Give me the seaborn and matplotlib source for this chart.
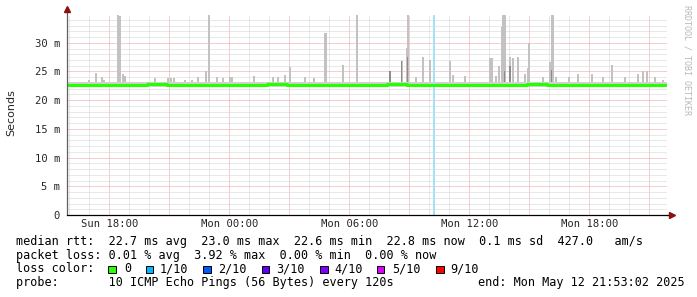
import numpy as np
import pandas as pd
import matplotlib
matplotlib.use("Agg")
import matplotlib.pyplot as plt
import matplotlib.dates as mdates
from matplotlib.ticker import MultipleLocator, FuncFormatter
from matplotlib.patches import Rectangle
import seaborn as sns

sns.set_style("white")
plt.rcParams["font.family"] = ["DejaVu Sans Mono", "DejaVu Sans"]

# ---------------- data ----------------
start = pd.Timestamp("2025-05-11 15:53:02")
end = pd.Timestamp("2025-05-12 21:53:02")

median_times = pd.date_range(start, end, freq="1h")
median_values = [22.7, 22.7, 22.7, 22.7, 22.8, 22.7, 22.7, 22.7, 22.7, 22.7,
                 22.8, 22.7, 22.7, 22.7, 22.7, 22.7, 22.8, 22.7, 22.7, 22.7,
                 22.7, 22.7, 22.7, 22.8, 22.7, 22.7, 22.7, 22.7, 22.7, 22.7, 22.7]

spike_times = [
    "2025-05-11 16:59", "2025-05-11 17:19", "2025-05-11 17:37", "2025-05-11 17:45",
    "2025-05-11 18:27", "2025-05-11 18:30", "2025-05-11 18:33", "2025-05-11 18:42",
    "2025-05-11 18:48", "2025-05-11 20:17", "2025-05-11 20:56", "2025-05-11 21:05",
    "2025-05-11 21:14", "2025-05-11 21:47", "2025-05-11 22:07", "2025-05-11 22:25",
    "2025-05-11 22:51", "2025-05-11 22:59", "2025-05-11 23:22", "2025-05-11 23:41",
    "2025-05-12 00:02", "2025-05-12 00:08", "2025-05-12 01:15", "2025-05-12 02:12",
    "2025-05-12 02:25", "2025-05-12 02:47", "2025-05-12 03:02", "2025-05-12 03:47",
    "2025-05-12 04:15", "2025-05-12 04:47", "2025-05-12 04:51", "2025-05-12 05:42",
    "2025-05-12 06:22", "2025-05-12 08:02", "2025-05-12 08:37", "2025-05-12 08:52",
    "2025-05-12 08:55", "2025-05-12 09:19", "2025-05-12 09:42", "2025-05-12 10:01",
    "2025-05-12 11:02", "2025-05-12 11:12", "2025-05-12 11:47", "2025-05-12 13:02",
    "2025-05-12 13:07", "2025-05-12 13:19", "2025-05-12 13:29", "2025-05-12 13:37",
    "2025-05-12 13:41", "2025-05-12 13:46", "2025-05-12 14:02", "2025-05-12 14:12",
    "2025-05-12 14:27", "2025-05-12 14:47", "2025-05-12 14:55", "2025-05-12 14:59",
    "2025-05-12 15:41", "2025-05-12 16:02", "2025-05-12 16:07", "2025-05-12 16:10",
    "2025-05-12 16:19", "2025-05-12 16:59", "2025-05-12 17:27", "2025-05-12 18:07",
    "2025-05-12 18:41", "2025-05-12 19:07", "2025-05-12 19:47", "2025-05-12 20:27",
    "2025-05-12 20:42", "2025-05-12 20:52", "2025-05-12 21:17", "2025-05-12 21:42",
]
spike_values = [
    23.5, 24.7, 24.0, 23.5,
    34.9, 34.6, 34.6, 24.5,
    24.2, 23.8, 23.8, 23.8,
    23.8, 23.5, 23.5, 24.0,
    25.0, 34.9, 24.0, 23.8,
    24.0, 24.0, 24.2, 24.0,
    24.0, 24.4, 25.7, 24.0,
    23.8, 31.7, 31.7, 26.2,
    34.9, 25.0, 26.9, 29.1,
    34.9, 24.0, 27.5, 27.0,
    26.9, 24.4, 24.3, 27.3,
    27.3, 24.2, 25.9, 32.7,
    34.9, 34.9, 27.5, 27.3,
    27.5, 24.5, 25.6, 29.9,
    24.0, 26.6, 34.9, 34.9,
    24.0, 24.0, 24.5, 24.6,
    24.0, 26.2, 24.0, 24.5,
    25.1, 25.1, 24.0, 23.5,
]
dark_times = ["2025-05-12 08:02", "2025-05-12 08:37", "2025-05-12 08:55",
              "2025-05-12 13:46", "2025-05-12 14:02", "2025-05-12 16:07"]
dark_values = [25.0, 26.9, 27.5, 25.0, 26.0, 25.2]

smoke_low, smoke_high = 22.3, 23.2
gap_start, gap_end = "2025-05-12 10:12", "2025-05-12 10:18"

loss_labels = ["0", "1/10", "2/10", "3/10", "4/10", "5/10", "9/10"]
loss_colors = ["#26ff00", "#00b8ff", "#0059ff", "#5e00ff", "#7e00ff", "#dd00ff", "#ff0000"]

line1 = "median rtt:  22.7 ms avg  23.0 ms max  22.6 ms min  22.8 ms now  0.1 ms sd  427.0   am/s"
line2 = "packet loss: 0.01 % avg  3.92 % max  0.00 % min  0.00 % now"
line4 = "probe:       10 ICMP Echo Pings (56 Bytes) every 120s"
end_text = "end: Mon May 12 21:53:02 2025"

# ---------------- figure ----------------
W, H = 697, 297
fig = plt.figure(figsize=(W / 100, H / 100), dpi=100)
fig.patch.set_facecolor("white")
ax = fig.add_axes([67 / W, (H - 215) / H, 600 / W, 200 / H])
ax.set_facecolor("white")

st = pd.to_datetime(spike_times)
dt = pd.to_datetime(dark_times)
bw = 6 / 1440.0

ax.fill_between([start, end], smoke_low, smoke_high, color="#d0d0d0", lw=0, zorder=2)
ax.bar(st, np.array(spike_values) - smoke_high, bottom=smoke_high, width=bw,
       color="#c2c2c2", linewidth=0, zorder=2)
ax.bar(dt, np.array(dark_values) - smoke_high, bottom=smoke_high, width=bw * 0.7,
       color="#8c8c8c", linewidth=0, zorder=2.1)
ax.axvspan(pd.Timestamp(gap_start), pd.Timestamp(gap_end), color="#a3e2f7", lw=0, zorder=2.2)

mt = list(median_times) + [end]
mv = list(median_values) + [median_values[-1]]
sns.lineplot(x=mt, y=mv, ax=ax, drawstyle="steps-post", color=loss_colors[0],
             linewidth=2.2, zorder=3)

ax.set_xlim(start, end)
ax.set_ylim(0, 200 / 5.74)

ax.xaxis.set_major_locator(mdates.HourLocator(byhour=range(0, 24, 3)))
ax.xaxis.set_minor_locator(mdates.HourLocator())
ax.xaxis.set_major_formatter(FuncFormatter(
    lambda v, p: mdates.num2date(v).strftime("%a %H:%M") if mdates.num2date(v).hour % 6 == 0 else ""))
ax.yaxis.set_major_locator(MultipleLocator(5))
ax.yaxis.set_minor_locator(MultipleLocator(1))
ax.yaxis.set_major_formatter(FuncFormatter(lambda v, p: "0" if v == 0 else f"{v:g} m"))

ax.set_axisbelow(True)
ax.grid(which="major", color="#eaa0a0", linestyle=(0, (1, 1)), linewidth=0.72)
ax.grid(which="minor", color="#d2d2d2", linestyle=(0, (1, 1)), linewidth=0.72)

for s in ["top", "right", "left"]:
    ax.spines[s].set_visible(False)
ax.spines["bottom"].set_color("black")
ax.spines["bottom"].set_linewidth(0.9)
ax.spines["bottom"].set_zorder(5)
ax.plot([0, 0], [0, 1.03], transform=ax.transAxes, color="#606060", lw=0.9,
        clip_on=False, zorder=5)
ax.plot([1.0, 1.005], [0, 0], transform=ax.transAxes, color="black", lw=0.9,
        clip_on=False, zorder=5)
ax.plot([0], [1.03], marker="^", color="#8b1010", markersize=4, transform=ax.transAxes,
        clip_on=False, zorder=6)
ax.plot([1.008], [0], marker=">", color="#8b1010", markersize=4, transform=ax.transAxes,
        clip_on=False, zorder=6)

ax.tick_params(axis="y", which="major", length=2, width=0.7, color="#606060",
               pad=3, labelsize=7.6, direction="out")
ax.tick_params(axis="y", which="minor", length=1.5, width=0.6, color="#909090", direction="out")
ax.tick_params(axis="x", which="major", length=2, width=0.7, color="black",
               pad=1, labelsize=7.6, direction="out")
ax.tick_params(axis="x", which="minor", length=1.2, width=0.6, color="#909090", direction="out")
ax.set_xlabel("")
ax.set_ylabel("")

# ---------------- texts ----------------
def fx(x):
    return x / W

def fy(y):
    return 1 - y / H

mono = dict(fontsize=8.5, family="DejaVu Sans Mono", va="center", ha="left", color="black")
fig.text(fx(16), fy(241.5), line1, **mono)
fig.text(fx(16), fy(255.2), line2, **mono)
fig.text(fx(16), fy(269), "loss color:", **mono)
fig.text(fx(16), fy(282.7), line4, **mono)
fig.text(fx(478), fy(282.7), end_text, **mono)

sq_x = [108.3, 145.7, 203.3, 261.7, 320, 376.7, 436]
tx_x = [124, 160, 218, 276, 334, 391.7, 450]
for sx, tx, lab, col in zip(sq_x, tx_x, loss_labels, loss_colors):
    fig.patches.append(Rectangle((fx(sx), fy(273.3)), 7.7 / W, 7.3 / H, facecolor=col,
                                 edgecolor="black", linewidth=0.7, transform=fig.transFigure))
    fig.text(fx(tx), fy(269), lab, **mono)

fig.text(fx(11), fy(113), "Seconds", rotation=90, fontsize=8, family="DejaVu Sans",
         ha="center", va="center")
fig.text(fx(687), fy(60), "RRDTOOL / TOBI OETIKER", rotation=-90, fontsize=6,
         family="DejaVu Sans Mono", color="#b8b8b8", ha="center", va="center")

fig.savefig("out.png", dpi=100, facecolor="white")
